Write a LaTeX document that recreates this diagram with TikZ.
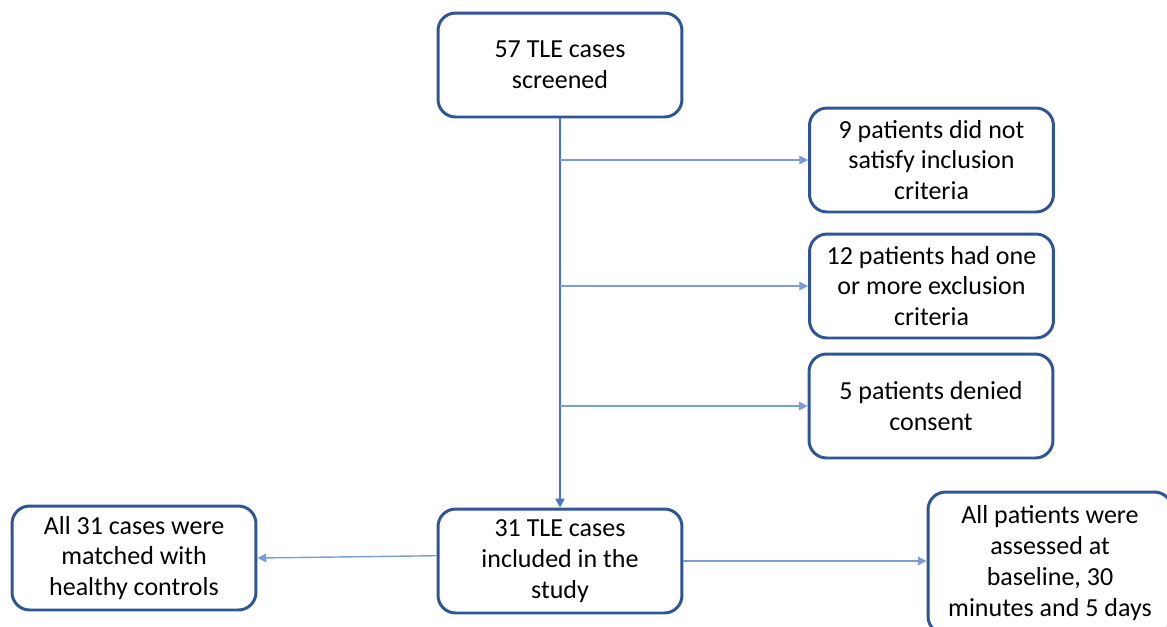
\documentclass[tikz,border=0pt]{standalone}
\usepackage{fontspec}
\setmainfont{Carlito}
\usetikzlibrary{positioning,arrows.meta}

\definecolor{boxblue}{RGB}{47,85,151}
\definecolor{lineblue}{RGB}{68,114,196}

\begin{document}
\begin{tikzpicture}[
  x=0.02cm, y=-0.02cm,
  stage/.style={draw=boxblue, line width=1.7pt, rounded corners=10pt,
                fill=white, minimum width=4.88cm, minimum height=2.08cm,
                align=center, inner sep=2pt,
                font=\fontsize{14.8pt}{17.6pt}\selectfont},
  flow/.style={draw=lineblue, line width=1.1pt,
               -{Triangle[length=5pt,width=5pt]}},
  branch/.style={draw=lineblue!70, line width=0.8pt,
                 -{Triangle[length=5pt,width=5pt]}},
]
  \clip (0,0) rectangle (1167,626);

  % Main column
  \node[stage] (screen) at (560,65)    {57 TLE cases\\screened};
  \node[stage] (incl)   at (560,561)   {31 TLE cases\\included in the\\study};

  % Excluded patients
  \node[stage] (inclcrit) at (931.5,160)   {9 patients did not\\satisfy inclusion\\criteria};
  \node[stage] (exclcrit) at (931.5,286) {12 patients had one\\or more exclusion\\criteria};
  \node[stage] (consent)  at (931,406)     {5 patients denied\\consent};

  % Follow-up boxes
  \node[stage] (matched)  at (134,558)   {All 31 cases were\\matched with\\healthy controls};
  \node[stage, minimum height=2.84cm] (assessed) at (1050,563)
    {All patients were\\assessed at\\baseline, 30\\minutes and 5 days};

  % Trunk
  \draw[flow] (screen) -- (incl);

  % Branches off the trunk
  \coordinate (b1) at (screen.south |- inclcrit.west);
  \coordinate (b2) at (screen.south |- exclcrit.west);
  \coordinate (b3) at (screen.south |- consent.west);
  \draw[branch] (b1) -- (inclcrit);
  \draw[branch] (b2) -- (exclcrit);
  \draw[branch] (b3) -- (consent);

  % Outcomes
  \draw[branch] ([yshift=3pt]incl.west) -- (matched.east);
  \draw[branch] (incl.east) -- (assessed.west |- incl.east);
\end{tikzpicture}
\end{document}
